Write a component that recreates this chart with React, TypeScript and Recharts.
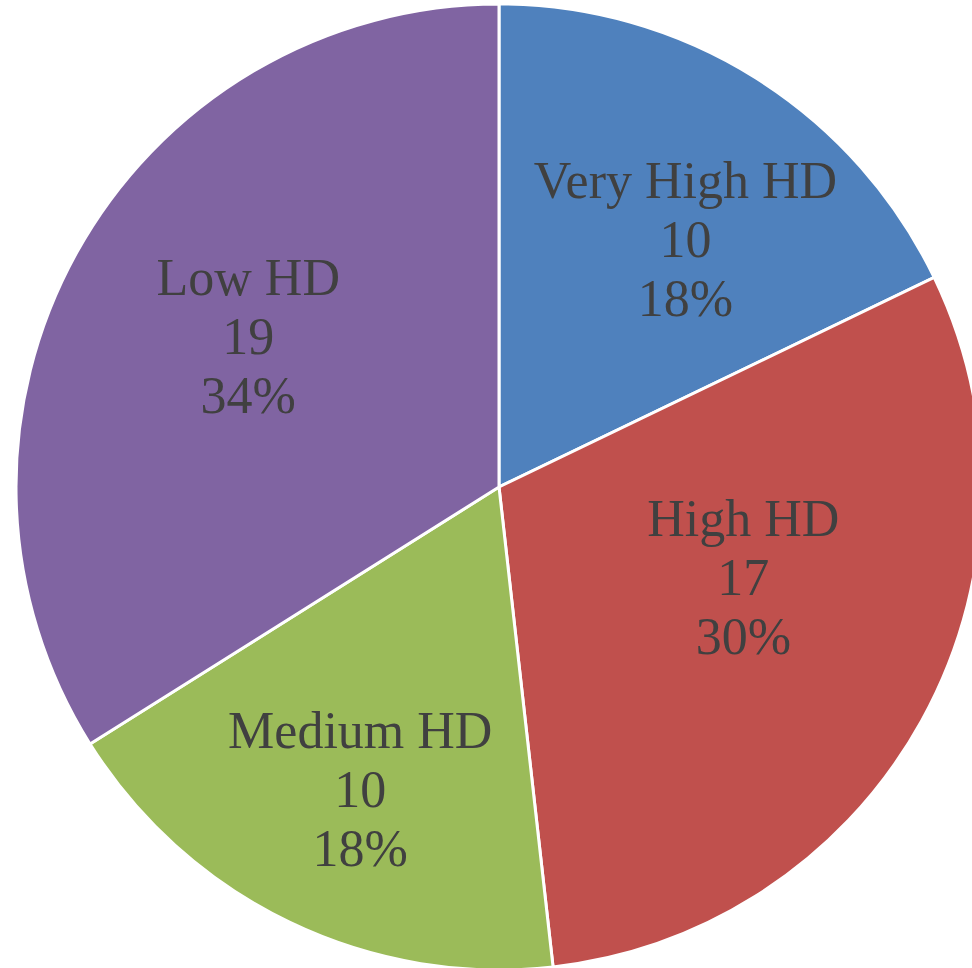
import React from "react";
import { PieChart, Pie, Cell } from "recharts";

const categories = ["Very High HD", "High HD", "Medium HD", "Low HD"];
const counts = [10, 17, 10, 19];
const colors = ["#4F81BD", "#C0504D", "#9BBB59", "#8064A2"];

// where Excel placed each label: angle in degrees and fraction of the radius
const labelAngles = [52.9, -20.5, -114.6, 149.1];
const labelRadii = [0.64, 0.54, 0.69, 0.605];

const data = categories.map((name, i) => ({ name, value: counts[i] }));

const RAD = Math.PI / 180;

const renderLabel = (props: any) => {
  const { cx, cy, outerRadius, index, percent, value, name } = props;
  const a = labelAngles[index];
  const r = outerRadius * labelRadii[index];
  const x = cx + r * Math.cos(-a * RAD);
  const y = cy + r * Math.sin(-a * RAD);
  return (
    <text
      x={x}
      y={y}
      textAnchor="middle"
      fill="#404040"
      fontFamily="'Liberation Serif', 'DejaVu Serif', serif"
      fontSize={52}
    >
      <tspan x={x} dy={-42}>{name}</tspan>
      <tspan x={x} dy={59}>{value}</tspan>
      <tspan x={x} dy={59}>{Math.round(percent * 100)}%</tspan>
    </text>
  );
};

export default function App() {
  return (
    <div style={{ position: "absolute", left: 0, top: 0, width: 972, height: 968, background: "#fff" }}>
      <PieChart width={972} height={968} margin={{ top: 0, right: 0, bottom: 0, left: 0 }}>
        <Pie
          data={data}
          dataKey="value"
          nameKey="name"
          cx={499}
          cy={487}
          outerRadius={483}
          startAngle={90}
          endAngle={-270}
          stroke="#ffffff"
          strokeWidth={3}
          label={renderLabel}
          labelLine={false}
          isAnimationActive={false}
        >
          {data.map((d, i) => (
            <Cell key={d.name} fill={colors[i]} />
          ))}
        </Pie>
      </PieChart>
    </div>
  );
}
